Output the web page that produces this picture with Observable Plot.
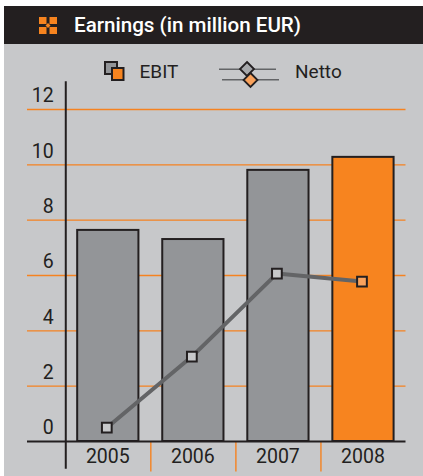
<!DOCTYPE html>
<html>
<head>
<meta charset="utf-8">
<script src="https://cdn.jsdelivr.net/npm/d3@7"></script>
<script src="https://cdn.jsdelivr.net/npm/@observablehq/plot@0.6"></script>
<style>
html,body{margin:0;padding:0;background:#fff}
#wrap{position:relative;width:423px;height:476px;overflow:hidden;background:#fff;font-family:Roboto,sans-serif;color:#231f20}
#bg{position:absolute;left:4px;top:44px;right:0;bottom:0;background:#c7c8ca}
#head{position:absolute;left:4px;right:0;top:6px;height:38px;background:#231f20;color:#fff;font-weight:500;font-size:20.6px;line-height:38px}
#head span{position:absolute;left:70px;white-space:nowrap}
#head svg{position:absolute;left:35px;top:11px}
.lg{position:absolute;top:58px;font-size:19px;line-height:28px;color:#231f20;white-space:nowrap}
#legendIcons{position:absolute;left:0;top:44px;overflow:visible}
#chart{position:absolute;left:0;top:81px}
#chart svg{background:transparent;overflow:visible}
</style>
</head>
<body>
<div id="wrap">
<div id="bg"></div>
<div id="head"><svg width="18" height="17" viewBox="0 0 18 17"><g fill="#f7841f"><rect x="0" y="0" width="7.500" height="7"/><rect x="10.500" y="0" width="7.500" height="7"/><rect x="0" y="10" width="7.500" height="7"/><rect x="10.500" y="10" width="7.500" height="7"/><path d="M9 6L11.500 8.500 9 11 6.500 8.500Z"/></g></svg><span id="titleText"></span></div>
<svg id="legendIcons" width="423" height="37">
<rect x="105" y="18" width="12" height="12" fill="#939598" stroke="#231f20" stroke-width="2"/>
<rect x="112" y="24" width="11.500" height="12" fill="#f7841f" stroke="#231f20" stroke-width="2"/>
<line x1="219" x2="276" y1="25.300" y2="25.300" stroke="#636466" stroke-width="1.600"/>
<line x1="222" x2="279" y1="35.700" y2="35.700" stroke="#636466" stroke-width="1.600"/>
<path d="M247 18 L254 25 L247 32 L240 25Z" fill="#a7a9ac" stroke="#231f20" stroke-width="1.800"/>
<path d="M250.500 29 L257.500 36 L250.500 43 L243.500 36Z" fill="#f9a25c" stroke="#231f20" stroke-width="1.800"/>
</svg>
<div class="lg" style="left:139.500px" id="lg0"></div>
<div class="lg" style="left:295px" id="lg1"></div>
<div id="chart"></div>
</div>
<script>
const titleText = "Earnings (in million EUR)";
const legendLabels = ["EBIT", "Netto"];
const years = [2005, 2006, 2007, 2008];
const ebit = [7.63, 7.3, 9.8, 10.27];
const netto = [0.5, 3.07, 6.07, 5.78];
const yTicks = [0, 2, 4, 6, 8, 10, 12];
const separators = [2005.5, 2006.5, 2007.5];

document.getElementById("titleText").textContent = titleText;
document.getElementById("lg0").textContent = legendLabels[0];
document.getElementById("lg1").textContent = legendLabels[1];

const dark = "#231f20", orange = "#f7841f", grid = "#f58220";
const rows = years.map((year, i) => ({year, ebit: ebit[i], netto: netto[i]}));
const highlight = 2008;
const half = 0.36;
const axisX = 2004.5;
const xStart = 2004.05, xEnd = 2008.5;

const chart = Plot.plot({
  width: 423,
  height: 395,
  margin: 0,
  style: {background: "transparent", fontFamily: "Roboto,sans-serif"},
  x: {domain: [xStart, xEnd], range: [27, 405.5], axis: null},
  y: {domain: [0, 12], range: [360, 28], axis: null},
  marks: [
    Plot.ruleY(yTicks.filter(d => d > 0), {y: d => d, x1: xStart, x2: xEnd, stroke: grid, strokeWidth: 1.4}),
    Plot.ruleX(separators, {x: d => d, y1: 0, y2: -1.1, stroke: grid, strokeWidth: 1.4}),
    Plot.rectY(rows, {
      x1: d => d.year - half, x2: d => d.year + half, y1: 0, y2: "ebit",
      fill: d => d.year === highlight ? orange : "#939598",
      stroke: dark, strokeWidth: 2
    }),
    Plot.ruleX([axisX], {y1: -1, y2: 13, stroke: dark, strokeWidth: 2}),
    Plot.ruleY([0], {x1: xStart, x2: xEnd, stroke: dark, strokeWidth: 2}),
    Plot.line(rows, {x: "year", y: "netto", stroke: "#636466", strokeWidth: 4, dx: -1.5}),
    Plot.dot(rows, {
      x: "year", y: "netto", symbol: "square", r: 5.5,
      fill: d => d.year === highlight ? "#f9a25c" : "#c7c8ca",
      stroke: dark, strokeWidth: 2, dx: -1.5
    }),
    Plot.text(yTicks, {
      x: axisX, y: d => d, text: d => String(d), textAnchor: "end", dx: -12, dy: -13.5,
      fontSize: 19.5, fill: dark
    }),
    Plot.text(years, {
      x: d => d, y: 0, text: d => String(d), dy: 15.5, dx: -0.5,
      fontSize: 19.5, fill: dark
    })
  ]
});
document.getElementById("chart").appendChild(chart);
</script>
</body>
</html>
